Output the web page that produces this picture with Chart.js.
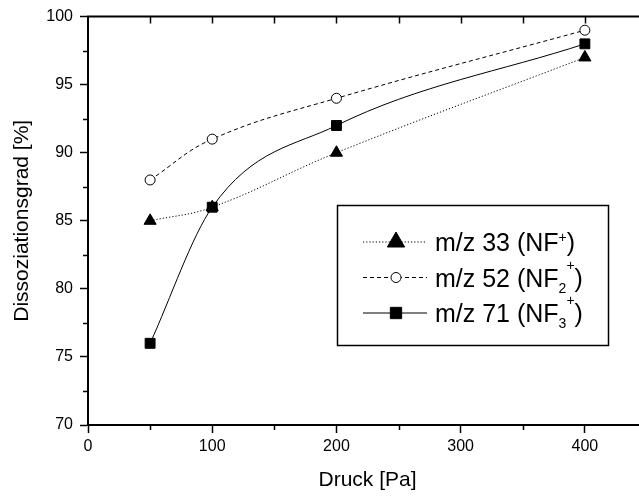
<!DOCTYPE html>
<html>
<head>
<meta charset="utf-8">
<script src="https://cdn.jsdelivr.net/npm/chart.js@4.4.0/dist/chart.umd.min.js"></script>
<style>
  html, body { margin: 0; padding: 0; background: #fff; overflow: hidden; }
  #wrap { width: 639px; height: 496px; overflow: hidden; }
</style>
</head>
<body>
<div id="wrap"><canvas id="chart1" width="660" height="496"></canvas></div>
<script>
// data
const pressure = [50, 100, 200, 400];
const mz33 = [85, 86, 90, 97];
const mz52 = [88, 91, 94, 99];
const mz71 = [76, 86, 92, 98];

const xTicks = [0, 100, 200, 300, 400];
const yTicks = [70, 75, 80, 85, 90, 95, 100];

// legend labels, pieces: [text, kind] kind = n (normal), sub, sup, supHi
const legendLabels = [
    [['m/z 33 (NF', 'n'], ['+', 'sup'], [')', 'n']],
    [['m/z 52 (NF', 'n'], ['2', 'sub'], ['+', 'supHi'], [')', 'n']],
    [['m/z 71 (NF', 'n'], ['3', 'sub'], ['+', 'supHi'], [')', 'n']]
];

const FONT = '"Liberation Sans", Arial, Helvetica, sans-serif';

function pts(ys) {
    return pressure.map((x, i) => ({ x: x, y: ys[i] }));
}

// ==============================
// extra frame: top line, minor ticks, legend box
// ==============================
const framePlugin = {
    id: 'frame',
    afterDraw(chart) {
        const ctx = chart.ctx;
        const area = chart.chartArea;
        const xs = chart.scales.x;
        const ys = chart.scales.y;
        ctx.save();
        ctx.strokeStyle = '#000';

        // top border
        ctx.lineWidth = 2;
        ctx.beginPath();
        ctx.moveTo(area.left - 1, area.top);
        ctx.lineTo(area.right, area.top);
        ctx.stroke();

        ctx.lineWidth = 1.5;
        ctx.beginPath();
        for (let v = 50; v <= 450; v += 50) {
            const px = Math.round(xs.getPixelForValue(v)) + 0.5;
            // top ticks point inward
            ctx.moveTo(px, area.top);
            ctx.lineTo(px, area.top + 7);
            if (v % 100 !== 0) {
                ctx.moveTo(px, area.bottom);
                ctx.lineTo(px, area.bottom + 5);
            }
        }
        for (let v = 72.5; v < 100; v += 5) {
            const py = Math.round(ys.getPixelForValue(v)) + 0.5;
            ctx.moveTo(area.left, py);
            ctx.lineTo(area.left - 5, py);
        }
        ctx.stroke();

        drawLegend(chart, ctx);
        ctx.restore();
    }
};

function drawMarker(ctx, ds, x, y, r) {
    ctx.save();
    ctx.setLineDash([]);
    ctx.lineWidth = 1;
    ctx.strokeStyle = '#000';
    ctx.fillStyle = ds.pointBackgroundColor;
    ctx.beginPath();
    if (ds.pointStyle === 'triangle') {
        for (let k = 0; k < 3; k++) {
            const a = k * 2 * Math.PI / 3;
            const px = x + Math.sin(a) * r;
            const py = y - Math.cos(a) * r;
            if (k === 0) ctx.moveTo(px, py); else ctx.lineTo(px, py);
        }
        ctx.closePath();
    } else if (ds.pointStyle === 'rect') {
        const s = r * Math.SQRT1_2;
        ctx.rect(x - s, y - s, 2 * s, 2 * s);
    } else {
        ctx.arc(x, y, r, 0, Math.PI * 2);
    }
    ctx.fill();
    ctx.stroke();
    ctx.restore();
}

function drawLegend(chart, ctx) {
    const box = { x: 337.5, y: 205.5, w: 271, h: 140 };
    ctx.lineWidth = 1.5;
    ctx.setLineDash([]);
    ctx.strokeRect(box.x, box.y, box.w, box.h);

    const rowsY = [242, 277.5, 313];
    const legendR = [10, 5, 8];
    chart.data.datasets.forEach((ds, i) => {
        const cy = rowsY[i];
        ctx.save();
        ctx.lineWidth = 1;
        ctx.setLineDash(ds.borderDash || []);
        ctx.beginPath();
        ctx.moveTo(363, cy);
        ctx.lineTo(427, cy);
        ctx.stroke();
        ctx.restore();
        drawMarker(ctx, ds, 396, cy, legendR[i]);

        // label
        let x = 435;
        const base = cy + 9;
        ctx.fillStyle = '#000';
        ctx.textBaseline = 'alphabetic';
        ctx.textAlign = 'left';
        legendLabels[i].forEach(([t, kind]) => {
            let size = 25, dy = 0;
            if (kind === 'sup') { size = 14; dy = -9; }
            if (kind === 'supHi') { size = 14; dy = -17; }
            if (kind === 'sub') { size = 14; dy = 6; }
            ctx.font = size + 'px ' + FONT;
            ctx.fillText(t, x, base + dy);
            x += ctx.measureText(t).width;
        });
    });
}

// ==============================
// Chart
// ==============================
const ctx1 = document.getElementById('chart1').getContext('2d');

new Chart(ctx1, {
    type: 'scatter',
    data: {
        datasets: [
            {
                label: 'm/z 33 (NF+)',
                data: pts(mz33),
                showLine: true,
                borderColor: '#000',
                borderWidth: 1,
                borderDash: [1.2, 2],
                pointStyle: 'triangle',
                pointRadius: 7,
                pointBackgroundColor: '#000',
                pointBorderColor: '#000',
                pointBorderWidth: 1,
                tension: 0.4,
                order: 1
            },
            {
                label: 'm/z 52 (NF2+)',
                data: pts(mz52),
                showLine: true,
                borderColor: '#000',
                borderWidth: 1,
                borderDash: [4, 3],
                pointStyle: 'circle',
                pointRadius: 5,
                pointBackgroundColor: '#fff',
                pointBorderColor: '#000',
                pointBorderWidth: 1,
                tension: 0.4,
                order: 2
            },
            {
                label: 'm/z 71 (NF3+)',
                data: pts(mz71),
                showLine: true,
                borderColor: '#000',
                borderWidth: 1,
                pointStyle: 'rect',
                pointRadius: 7,
                pointBackgroundColor: '#000',
                pointBorderColor: '#000',
                pointBorderWidth: 1,
                cubicInterpolationMode: 'monotone',
                order: 0
            }
        ]
    },
    options: {
        responsive: false,
        animation: false,
        devicePixelRatio: 1,
        layout: {
            padding: { left: 0, top: 16, right: 13, bottom: 0 }
        },
        plugins: {
            legend: { display: false },
            tooltip: { enabled: false }
        },
        scales: {
            x: {
                type: 'linear',
                min: 0,
                max: 450,
                afterBuildTicks: (s) => { s.ticks = xTicks.map(v => ({ value: v })); },
                afterFit: (s) => { s.height = 71; },
                border: { color: '#000', width: 2 },
                grid: { drawOnChartArea: false, tickLength: 8, tickColor: '#000', tickWidth: 1.5 },
                ticks: {
                    autoSkip: false, maxRotation: 0, padding: 4,
                    color: '#000', font: { family: FONT, size: 16 }
                },
                title: {
                    display: true, text: 'Druck [Pa]', color: '#000',
                    font: { family: FONT, size: 21 },
                    padding: { top: 0, bottom: 3 }
                }
            },
            y: {
                min: 70,
                max: 100,
                afterBuildTicks: (s) => { s.ticks = yTicks.map(v => ({ value: v })); },
                afterFit: (s) => { s.width = 88; },
                border: { color: '#000', width: 2 },
                grid: { drawOnChartArea: false, tickLength: 8, tickColor: '#000', tickWidth: 1.5 },
                ticks: {
                    padding: 7,
                    color: '#000', font: { family: FONT, size: 16 }
                },
                title: {
                    display: true, text: 'Dissoziationsgrad [%]', color: '#000',
                    font: { family: FONT, size: 21 },
                    padding: { top: 10, bottom: 0 }
                }
            }
        }
    },
    plugins: [framePlugin]
});
</script>
</body>
</html>
